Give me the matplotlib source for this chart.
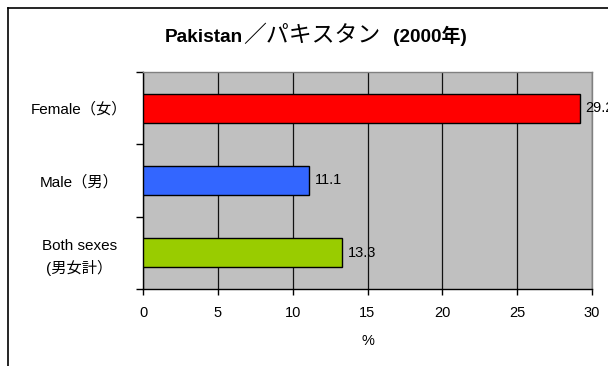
import matplotlib.pyplot as plt
from matplotlib.lines import Line2D

plt.rcParams['font.family'] = ['Liberation Sans', 'Noto Sans CJK JP', 'DejaVu Sans']

# Data (bottom to top)
categories = ['Both sexes\n(男女計）', 'Male（男）', 'Female（女）']
values = [13.3, 11.1, 29.2]
colors = ['#99CC00', '#3366FF', '#FF0000']

W, H = 608, 366
fig = plt.figure(figsize=(W / 100, H / 100), dpi=100)
ax = fig.add_axes([143 / W, 1 - 289 / H, 449 / W, 217 / H])
ax.set_facecolor('#C0C0C0')

pos = range(len(categories))
ax.barh(pos, values, height=0.4, color=colors, edgecolor='black', linewidth=1, zorder=3)

for y, v in zip(pos, values):
    ax.annotate(f'{v:.1f}', (v, y), xytext=(4, 0), textcoords='offset points',
                va='center', ha='left', fontsize=10.5, zorder=4, annotation_clip=False)

ax.set_xlim(0, 30)
ax.set_ylim(-0.5, 2.5)
ax.set_xticks(range(0, 31, 5))
ax.tick_params(axis='x', labelsize=10.5, length=4, width=1, pad=8, direction='out')
ax.xaxis.grid(True, color='#111111', linewidth=0.9, zorder=1)

# category ticks at boundaries, labels at centres
ax.set_yticks([-0.5, 0.5, 1.5, 2.5])
ax.set_yticklabels([])
ax.tick_params(axis='y', which='major', length=5, width=1)
ax.set_yticks(list(pos), minor=True)
ax.set_yticklabels(categories, minor=True, fontsize=11, ha='center', multialignment='center',
                   linespacing=1.5)
ax.tick_params(axis='y', which='minor', length=0, pad=46)

for s in ['left', 'bottom']:
    ax.spines[s].set_color('black')
    ax.spines[s].set_linewidth(1)
for s in ['top', 'right']:
    ax.spines[s].set_color('#808080')
    ax.spines[s].set_linewidth(1)

ax.set_xlabel('%', fontsize=10.5, labelpad=10)

# title: bold latin parts, lighter katakana part
base = 1 - 42 / H
fig.text(165 / W, base, 'Pakistan', ha='left', va='baseline', fontsize=13.7, fontweight='bold')
fig.text(243 / W, base, '／パキスタン', ha='left', va='baseline', fontsize=16.5,
         family=['Noto Sans CJK JP', 'DejaVu Sans'])
fig.text(393 / W, base, '(2000年)', ha='left', va='baseline', fontsize=13.7, fontweight='bold')

# outer chart frame
fig.add_artist(Line2D([7.5 / W, 7.5 / W], [0, 1 - 7.5 / H], color='black', linewidth=1.2,
                      transform=fig.transFigure))
fig.add_artist(Line2D([7.5 / W, 1], [1 - 7.5 / H, 1 - 7.5 / H], color='black', linewidth=1.2,
                      transform=fig.transFigure))

fig.savefig('out.png', dpi=100)
